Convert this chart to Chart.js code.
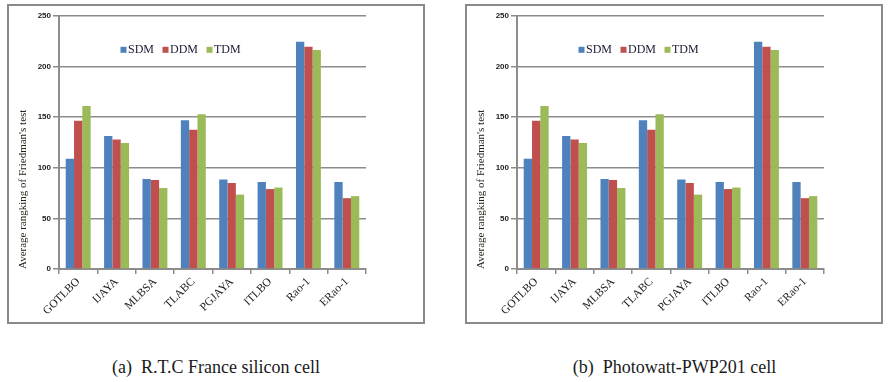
<!DOCTYPE html>
<html><head><meta charset="utf-8">
<script src="https://cdn.jsdelivr.net/npm/chart.js@4/dist/chart.umd.min.js"></script>
<style>
html,body{margin:0;padding:0;background:#fff;width:893px;height:382px;overflow:hidden;position:relative}
.box{position:absolute;top:4px;width:414px;height:316px;border:2px solid #8a8a8a;}
.box canvas{display:block}
.cap{position:absolute;top:357px;width:420px;text-align:center;font:18px 'Liberation Serif',serif;line-height:20px;color:#1a1a1a;white-space:pre}
</style></head><body>
<div class="box" style="left:7px"><canvas id="ca" width="414" height="316"></canvas></div>
<div class="box" style="left:465px"><canvas id="cb" width="414" height="316"></canvas></div>
<div class="cap" style="left:6px">(a)  R.T.C France silicon cell</div>
<div class="cap" style="left:464.5px">(b)  Photowatt-PWP201 cell</div>
<script>
const categories = ['GOTLBO','IJAYA','MLBSA','TLABC','PGJAYA','ITLBO','Rao-1','ERao-1'];
const seriesNames = ['SDM','DDM','TDM'];
const seriesColors = ['#4F81BD','#C0504D','#9BBB59'];
// (a) R.T.C France silicon cell
const sdmRTC = [109, 131.5, 89, 147, 88.5, 86, 224.5, 86];
const ddmRTC = [146.5, 128, 88, 137.5, 85, 79, 219.5, 70];
const tdmRTC = [161, 124.5, 80, 153, 73.5, 80.5, 216.5, 72];
// (b) Photowatt-PWP201 cell
const sdmPWP = [109, 131.5, 89, 147, 88.5, 86, 224.5, 86];
const ddmPWP = [146.5, 128, 88, 137.5, 85, 79, 219.5, 70];
const tdmPWP = [161, 124.5, 80, 153, 73.5, 80.5, 216.5, 72];
const yTickValues = [0, 50, 100, 150, 200, 250];
const yTitle = "Average rangking of Friedman's test";

const gridColor = '#8c8c8c';

const legendPlugin = {
  id: 'inlineLegend',
  afterDraw(chart) {
    const {ctx, chartArea} = chart;
    ctx.save();
    ctx.font = "12px 'Liberation Serif'";
    ctx.textBaseline = 'middle';
    ctx.textAlign = 'left';
    let x = chartArea.left + 61.5;
    const y = chartArea.top + 33.8;
    chart.data.datasets.forEach(ds => {
      ctx.fillStyle = ds.backgroundColor;
      ctx.fillRect(x, y - 3, 6, 6);
      x += 7.5;
      ctx.fillStyle = '#1b1b33';
      ctx.fillText(ds.label, x, y + 0.5);
      x += ctx.measureText(ds.label).width + 8.5;
    });
    ctx.restore();
  }
};

function makeChart(id, series) {
  return new Chart(document.getElementById(id), {
    type: 'bar',
    data: {
      labels: categories,
      datasets: series.map((vals, i) => ({
        label: seriesNames[i],
        data: vals,
        backgroundColor: seriesColors[i],
        borderWidth: 0,
        categoryPercentage: 0.65,
        barPercentage: 1.0
      }))
    },
    options: {
      responsive: false,
      devicePixelRatio: 1,
      animation: false,
      layout: { padding: { top: 10, right: 57, left: 0, bottom: 0 } },
      plugins: { legend: { display: false }, tooltip: { enabled: false } },
      scales: {
        x: {
          afterFit(scale) { scale.height = 53; },
          grid: { display: true, drawOnChartArea: false, offset: true, tickLength: 5, color: gridColor, lineWidth: 1.5 },
          border: { display: true, color: gridColor, width: 2 },
          ticks: { autoSkip: false, minRotation: 45, maxRotation: 45, padding: 1,
                   font: { family: "'Liberation Serif'", size: 11.5 }, color: '#222' }
        },
        y: {
          min: yTickValues[0], max: yTickValues[yTickValues.length - 1],
          afterFit(scale) { scale.width = 50; },
          afterBuildTicks(scale) { scale.ticks = yTickValues.map(v => ({ value: v })); },
          grid: { color: gridColor, lineWidth: 1.5, tickLength: 6 },
          border: { display: true, color: gridColor, width: 2 },
          ticks: { padding: 2, font: { family: "'Liberation Sans'", size: 8, weight: 'bold' }, color: '#222' },
          title: { display: true, text: yTitle, align: 'start', padding: { top: 8, bottom: 0 },
                   font: { family: "'Liberation Serif'", size: 11 }, color: '#2a2218' }
        }
      }
    },
    plugins: [legendPlugin]
  });
}

makeChart('ca', [sdmRTC, ddmRTC, tdmRTC]);
makeChart('cb', [sdmPWP, ddmPWP, tdmPWP]);
</script>
</body></html>
